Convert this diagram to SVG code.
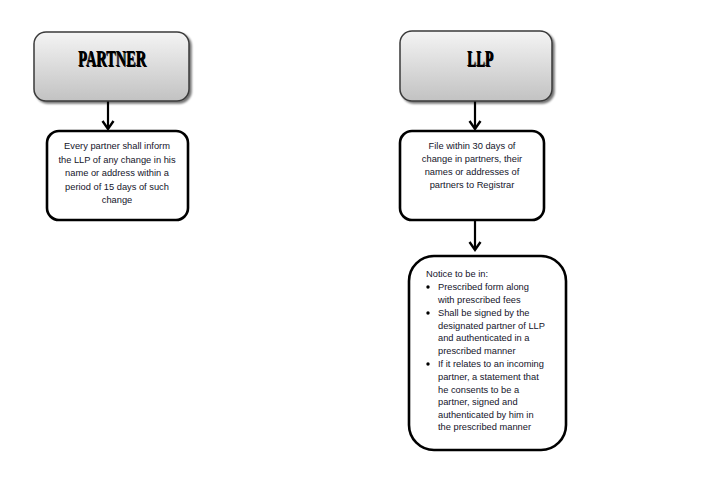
<svg xmlns="http://www.w3.org/2000/svg" width="706" height="481" viewBox="0 0 706 481">
<defs>
<linearGradient id="hg" x1="0" y1="0" x2="0" y2="1">
<stop offset="0" stop-color="#f4f4f4"/>
<stop offset="1" stop-color="#c2c2c2"/>
</linearGradient>
<filter id="sh" x="-10%" y="-10%" width="130%" height="140%">
<feGaussianBlur in="SourceAlpha" stdDeviation="1.2"/>
<feOffset dx="1.5" dy="2" result="b"/>
<feComponentTransfer><feFuncA type="linear" slope="0.55"/></feComponentTransfer>
<feMerge><feMergeNode/><feMergeNode in="SourceGraphic"/></feMerge>
</filter>
<marker id="ah" markerWidth="12" markerHeight="14" refX="9" refY="7" orient="auto" markerUnits="userSpaceOnUse" viewBox="0 0 12 14">
<path d="M1,1.5 L9,7 L1,12.5" fill="none" stroke="#000" stroke-width="2.4" stroke-linejoin="miter"/>
</marker>
</defs>
<style>
.head{fill:url(#hg);stroke:#3a3a3a;stroke-width:1.5;filter:url(#sh)}
.box{fill:#fff;stroke:#000;stroke-width:2.6}
.title{font-family:"Liberation Serif",serif;font-weight:bold;font-size:24px;fill:#000}
.t{font-family:"Liberation Sans",Arial,sans-serif;font-size:9.3px;fill:#14142a}
.c{text-anchor:middle}
.conn{stroke:#000;stroke-width:2.2;fill:none}
</style>
<rect width="706" height="481" fill="#fff"/>
<g id="connectors">
<line class="conn" x1="108" y1="101" x2="108" y2="129" marker-end="url(#ah)"/>
<line class="conn" x1="475" y1="101" x2="475" y2="129" marker-end="url(#ah)"/>
<line class="conn" x1="475" y1="220" x2="475" y2="250" marker-end="url(#ah)"/>
</g>
<g id="partner">
<rect class="head" x="34" y="32" width="155" height="69" rx="12"/>
<text class="title" x="78" y="66" textLength="68" lengthAdjust="spacingAndGlyphs" fill="#5a0000" transform="translate(0.8,0.6)">PARTNER</text>
<text class="title" x="78" y="66" textLength="68" lengthAdjust="spacingAndGlyphs">PARTNER</text>
</g>
<g id="llp">
<rect class="head" x="400" y="31" width="152" height="70" rx="12"/>
<text class="title" x="467" y="66" textLength="26" lengthAdjust="spacingAndGlyphs" fill="#5a0000" transform="translate(0.8,0.6)">LLP</text>
<text class="title" x="467" y="66" textLength="26" lengthAdjust="spacingAndGlyphs">LLP</text>
</g>
<g id="partner-inform">
<rect class="box" x="47" y="131" width="141" height="89" rx="12"/>
<text class="t c" x="117" y="149">Every partner shall inform</text>
<text class="t c" x="117" y="162.5">the LLP of any change  in his</text>
<text class="t c" x="117" y="176">name or address within a</text>
<text class="t c" x="117" y="189.5">period of 15 days of such</text>
<text class="t c" x="117" y="203">change</text>
</g>
<g id="llp-file">
<rect class="box" x="400" y="131" width="144" height="89" rx="12"/>
<text class="t c" x="472" y="149">File within  30 days of</text>
<text class="t c" x="472" y="162">change in partners, their</text>
<text class="t c" x="472" y="175">names or addresses of</text>
<text class="t c" x="472" y="188">partners to Registrar</text>
</g>
<g id="notice">
<rect class="box" x="409" y="256" width="157" height="194" rx="25"/>
<text class="t" x="426" y="277">Notice  to  be in:</text>
<circle cx="428" cy="287" r="1.7" fill="#000"/>
<text class="t" x="438" y="290">Prescribed form along</text>
<text class="t" x="438" y="302.5">with prescribed fees</text>
<circle cx="428" cy="313" r="1.7" fill="#000"/>
<text class="t" x="438" y="316">Shall be signed by the</text>
<text class="t" x="438" y="328.5">designated  partner  of LLP</text>
<text class="t" x="438" y="341">and authenticated  in a</text>
<text class="t" x="438" y="353.5">prescribed manner</text>
<circle cx="428" cy="364" r="1.7" fill="#000"/>
<text class="t" x="438" y="367">If it relates to an incoming</text>
<text class="t" x="438" y="380">partner, a statement  that</text>
<text class="t" x="438" y="392.5">he consents to be a</text>
<text class="t" x="438" y="405">partner, signed and</text>
<text class="t" x="438" y="417.5">authenticated  by him in</text>
<text class="t" x="438" y="430">the prescribed manner</text>
</g>
</svg>
